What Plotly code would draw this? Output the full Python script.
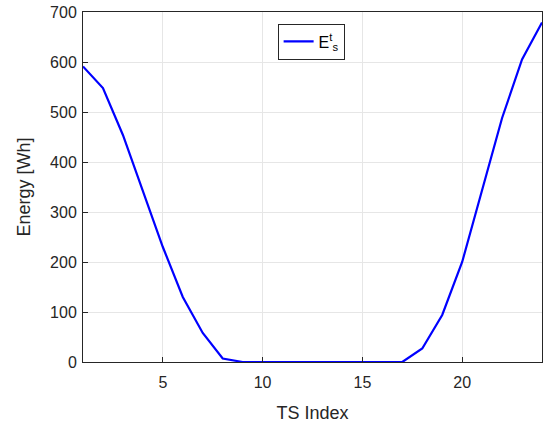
import plotly.graph_objects as go

ts_index = list(range(1, 25))
energy = [591, 548, 454, 344, 230, 130, 58, 7, 0, 0, 0, 0, 0, 0, 0, 0, 0,
          27, 94, 200, 344, 488, 605, 679]
x_ticks = [5, 10, 15, 20]
y_ticks = [0, 100, 200, 300, 400, 500, 600, 700]

fig = go.Figure()
fig.add_trace(go.Scatter(x=ts_index, y=energy, mode="lines",
                         line=dict(color="#0000ff", width=2.2),
                         name="E<sup>t</sup><sub>s</sub>"))

axis_common = dict(showline=True, linecolor="#262626", linewidth=1, mirror=True,
                   ticks="inside", ticklen=5, tickcolor="#262626",
                   showgrid=True, gridcolor="#e6e6e6", gridwidth=1,
                   zeroline=False,
                   tickfont=dict(family="Liberation Sans", size=16, color="#262626"))

fig.update_xaxes(range=[1, 24], tickvals=x_ticks, ticklabelstandoff=6,
                 title=dict(text="TS Index", font=dict(family="Liberation Sans", size=18, color="#262626"), standoff=17),
                 **axis_common)
fig.update_yaxes(range=[0, 700], tickvals=y_ticks, ticklabelstandoff=2,
                 title=dict(text="Energy [Wh]", font=dict(family="Liberation Sans", size=18, color="#262626"), standoff=14),
                 **axis_common)

fig.update_layout(width=548, height=423,
                  margin=dict(l=83, r=6, t=12, b=61, autoexpand=False),
                  plot_bgcolor="white", paper_bgcolor="white",
                  showlegend=True,
                  legend=dict(x=0.497, y=0.967, xanchor="center", yanchor="top",
                              bgcolor="white", bordercolor="#262626", borderwidth=1,
                              font=dict(family="Liberation Sans", size=16, color="#000000"),
                              itemwidth=30))

fig.write_html("out.html", config={"displayModeBar": False},
               post_script="document.body.style.margin='0';document.body.style.overflow='hidden';")
